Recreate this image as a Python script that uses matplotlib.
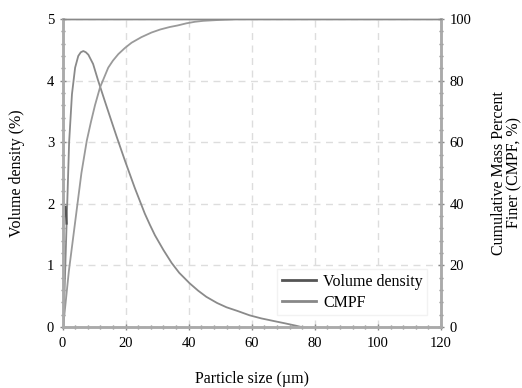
import numpy as np
import matplotlib.pyplot as plt
from matplotlib.ticker import MultipleLocator

plt.rcParams['font.family'] = ['Liberation Serif', 'DejaVu Serif']

# Volume density curve (particle size in um, %)
vd_x = [0.3, 0.9, 1.5, 2.1, 3.0, 4.0, 5.0, 5.8, 6.6, 7.4, 8.2, 9.7, 11.3, 13.4,
        15.6, 17.1, 19.8, 22.9, 26.1, 27.7, 29.3, 32, 34.6, 37, 40.3, 43, 45.6,
        49, 52, 55.5, 59.3, 63, 66.7, 70.5, 74.1, 75.7]
vd_y = [0.0, 1.0, 2.0, 3.0, 3.78, 4.21, 4.40, 4.46, 4.48, 4.46, 4.42, 4.27, 4.0,
        3.67, 3.33, 3.10, 2.70, 2.26, 1.84, 1.66, 1.49, 1.25, 1.04, 0.88, 0.71,
        0.59, 0.49, 0.39, 0.32, 0.26, 0.19, 0.14, 0.10, 0.06, 0.02, 0.0]

# Cumulative mass percent finer (%)
cm_x = [0.2, 2, 4, 6, 7.7, 9, 10.3, 11.9, 13, 14.5, 16, 17.7, 19.8, 21.9, 25,
        28.2, 31, 34, 36.5, 39.3, 42, 44.6, 49.8, 55.5]
cm_y = [0, 18, 34, 50, 60.5, 66.5, 72, 77.8, 80.5, 84.2, 86.5, 88.6, 90.6, 92.3,
        94.1, 95.6, 96.6, 97.4, 97.9, 98.6, 99.1, 99.4, 99.7, 100]

# small dark stroke near the origin
mk_x = [1.0, 1.3]
mk_y = [1.95, 1.68]

fig = plt.figure(figsize=(5.22, 3.88), dpi=100)
ax = fig.add_axes([62.5/522, 61/388, 378.5/522, 308/388])
ax2 = ax.twinx()

l1, = ax.plot(vd_x, vd_y, color='#8a8a8a', lw=1.3)
ax.plot(mk_x, mk_y, color='#555555', lw=1.6)
l2, = ax2.plot(cm_x, cm_y, color='#9a9a9a', lw=1.3)

ax.set_xlim(0, 120)
ax.set_ylim(0, 5)
ax2.set_ylim(0, 100)
ax.xaxis.set_major_locator(MultipleLocator(20))
ax.xaxis.set_minor_locator(MultipleLocator(4))
ax.yaxis.set_major_locator(MultipleLocator(1))
ax.yaxis.set_minor_locator(MultipleLocator(0.2))
ax2.yaxis.set_major_locator(MultipleLocator(20))
ax2.yaxis.set_minor_locator(MultipleLocator(4))

ax.grid(True, which='major', color='#dddddd', ls=(0, (5, 4)), lw=1)
ax.set_axisbelow(True)

for a in (ax, ax2):
    for s in ('left', 'bottom', 'right'):
        a.spines[s].set_color('#aaaaaa')
        a.spines[s].set_linewidth(1.8)
    a.spines['top'].set_color('#888888')
    a.spines['top'].set_linewidth(1.0)
    a.tick_params(which='both', direction='inout', color='#888888', labelsize=10.5, pad=4)
    a.tick_params(which='major', length=4, width=1)
    a.tick_params(which='minor', length=3, width=1)
ax.tick_params(axis='x', pad=5)

ax.set_xlabel('Particle size (\u00b5m)', fontsize=11.5, labelpad=15)
ax.set_ylabel('Volume density (%)', fontsize=11.5, labelpad=16)
ax2.set_ylabel('Cumulative Mass Percent\nFiner (CMPF, %)', fontsize=11.5,
               labelpad=14, linespacing=1.0)

leg = ax.legend([l1, l2], ['Volume density', 'CMPF'], loc='lower right',
                bbox_to_anchor=(0.985, 0.012), fontsize=11.5, frameon=True,
                fancybox=False, edgecolor='#f2f2f2', framealpha=1,
                handlelength=2.1, handletextpad=0.45, labelspacing=0.3,
                borderpad=0.3)
leg.get_lines()[0].set_color('#555555')
leg.get_lines()[1].set_color('#888888')
for ln in leg.get_lines():
    ln.set_linewidth(2)

fig.savefig('out.png', dpi=100)
